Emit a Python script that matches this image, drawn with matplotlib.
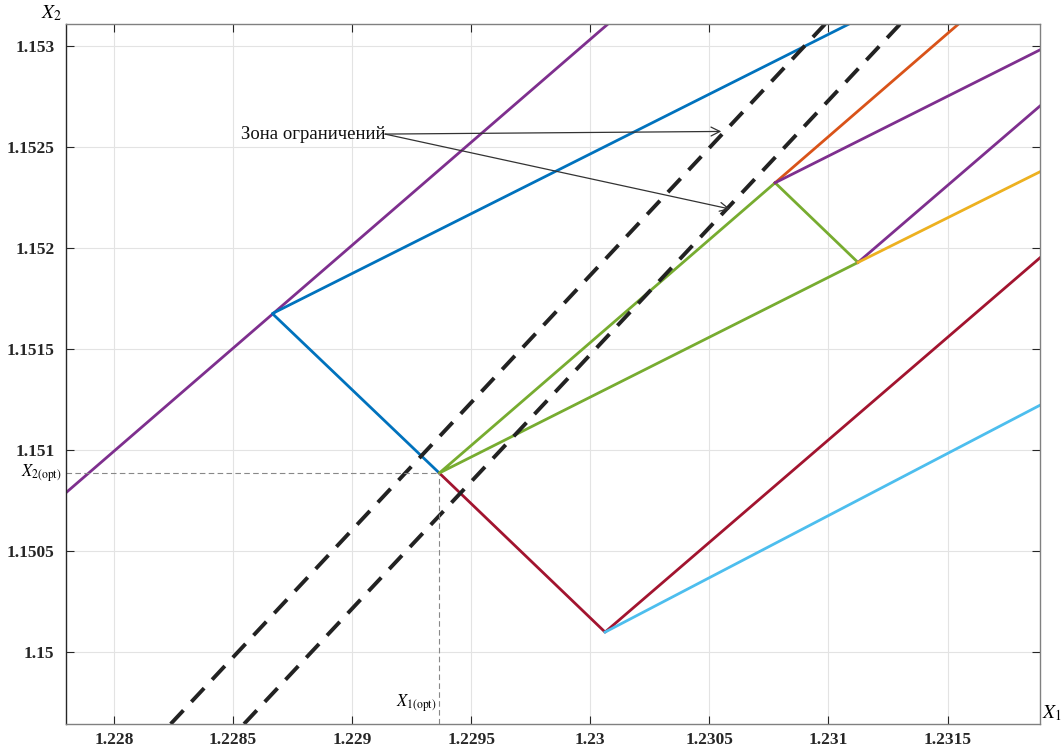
import numpy as np
import matplotlib
matplotlib.use("Agg")
import matplotlib.pyplot as plt

plt.rcParams['font.family'] = ['Liberation Serif', 'DejaVu Serif']
plt.rcParams['mathtext.fontset'] = 'stix'

# MATLAB default colour order
c_blue = '#0072BD'
c_orange = '#D95319'
c_yellow = '#EDB120'
c_purple = '#7E2F8E'
c_green = '#77AC30'
c_cyan = '#4DBEEE'
c_red = '#A2142F'

# key nodes
x_opt, y_opt = 1.229366, 1.150886
n1 = (1.228665, 1.151675)
n2 = (1.230062, 1.150099)
na = (1.230776, 1.152322)
nb = (1.231124, 1.151928)

x_lim = (1.2277967, 1.2318873)
y_lim = (1.1496446, 1.1531074)

# polylines
purple_left_x = [1.2277967, 1.230074]
purple_left_y = [1.150787, 1.1531074]
blue_x = [1.231086, n1[0], x_opt]
blue_y = [1.1531074, n1[1], y_opt]
red_x = [x_opt, n2[0], 1.2318873]
red_y = [y_opt, n2[1], 1.151950]
cyan_x = [n2[0], 1.2318873]
cyan_y = [n2[1], 1.151221]
green_x = [na[0], x_opt, nb[0], na[0]]
green_y = [na[1], y_opt, nb[1], na[1]]
orange_x = [na[0], 1.231546]
orange_y = [na[1], 1.1531074]
purple_a_x = [na[0], 1.2318873]
purple_a_y = [na[1], 1.152979]
purple_b_x = [nb[0], 1.2318873]
purple_b_y = [nb[1], 1.152701]
yellow_x = [nb[0], 1.2318873]
yellow_y = [nb[1], 1.152376]

# constraint zone boundaries (dashed)
dash1_x = [1.228238, 1.230986]
dash1_y = [1.1496446, 1.1531074]
dash2_x = [1.228546, 1.231301]
dash2_y = [1.1496446, 1.1531074]

# annotation
ann_tail = (1.229138, 1.152563)
ann_tips = [(1.230550, 1.152576), (1.230587, 1.152192)]

x_ticks = [1.228, 1.2285, 1.229, 1.2295, 1.23, 1.2305, 1.231, 1.2315]
x_labels = ['1.228', '1.2285', '1.229', '1.2295', '1.23', '1.2305', '1.231', '1.2315']
y_ticks = [1.15, 1.1505, 1.151, 1.1515, 1.152, 1.1525, 1.153]
y_labels = ['1.15', '1.1505', '1.151', '1.1515', '1.152', '1.1525', '1.153']

fig = plt.figure(figsize=(10.61, 7.51), dpi=100, facecolor='w')
ax = fig.add_axes([0.0618, 0.036, 0.98 - 0.0618, 0.968 - 0.036])

lw = 2.0
ax.plot(purple_left_x, purple_left_y, color=c_purple, lw=lw)
ax.plot(blue_x, blue_y, color=c_blue, lw=lw)
ax.plot(red_x, red_y, color=c_red, lw=lw)
ax.plot(cyan_x, cyan_y, color=c_cyan, lw=lw)
ax.plot(green_x, green_y, color=c_green, lw=lw)
ax.plot(orange_x, orange_y, color=c_orange, lw=lw)
ax.plot(purple_a_x, purple_a_y, color=c_purple, lw=lw)
ax.plot(purple_b_x, purple_b_y, color=c_purple, lw=lw)
ax.plot(yellow_x, yellow_y, color=c_yellow, lw=lw)

for dx, dy in ((dash1_x, dash1_y), (dash2_x, dash2_y)):
    ln, = ax.plot(dx, dy, color='#222222', lw=2.8)
    ln.set_dashes((4.8, 3.0))

# optimum guide lines
ax.plot([x_opt, x_opt], [y_lim[0], y_opt], color='#888888', lw=0.8, dashes=(5, 3))
ax.plot([x_lim[0], x_opt], [y_opt, y_opt], color='#888888', lw=0.8, dashes=(5, 3))

for tip in ann_tips:
    ax.annotate('', xy=tip, xytext=ann_tail,
                arrowprops=dict(arrowstyle='->', color='#333333', lw=0.9,
                                shrinkA=0, shrinkB=0, mutation_scale=16))
ax.text(ann_tail[0], ann_tail[1], 'Зона ограничений', ha='right', va='center',
        fontsize=13.5, color='#111111')

ax.set_xlim(*x_lim)
ax.set_ylim(*y_lim)
ax.set_xticks(x_ticks)
ax.set_xticklabels(x_labels, fontweight='bold', fontsize=12.5)
ax.set_yticks(y_ticks)
ax.set_yticklabels(y_labels, fontweight='bold', fontsize=12.5)
ax.tick_params(axis='x', pad=6)
ax.tick_params(axis='y', pad=8)
ax.tick_params(direction='in', length=6, width=0.8, colors='#262626',
               top=True, right=True)
ax.grid(True, color='#e3e3e3', lw=0.8)
ax.set_axisbelow(True)
for spine in ax.spines.values():
    spine.set_color('#808080')
    spine.set_linewidth(1.0)
ax.spines['left'].set_color('#262626')

# axis labels
fig.text(0.058, 0.995, r'$X_2$', ha='right', va='top', fontsize=14)
fig.text(0.982, 0.05, r'$X_1$', ha='left', va='center', fontsize=14)
ax.text(x_opt - 0.00001, y_lim[0] + 0.00005, r'$X_{1\mathrm{(opt)}}$',
        ha='right', va='bottom', fontsize=12)
ax.annotate(r'$X_{2\mathrm{(opt)}}$', xy=(x_lim[0], y_opt), xytext=(-3, 0),
            textcoords='offset points', ha='right', va='center', fontsize=12,
            annotation_clip=False)

fig.savefig('out.png', dpi=100)
